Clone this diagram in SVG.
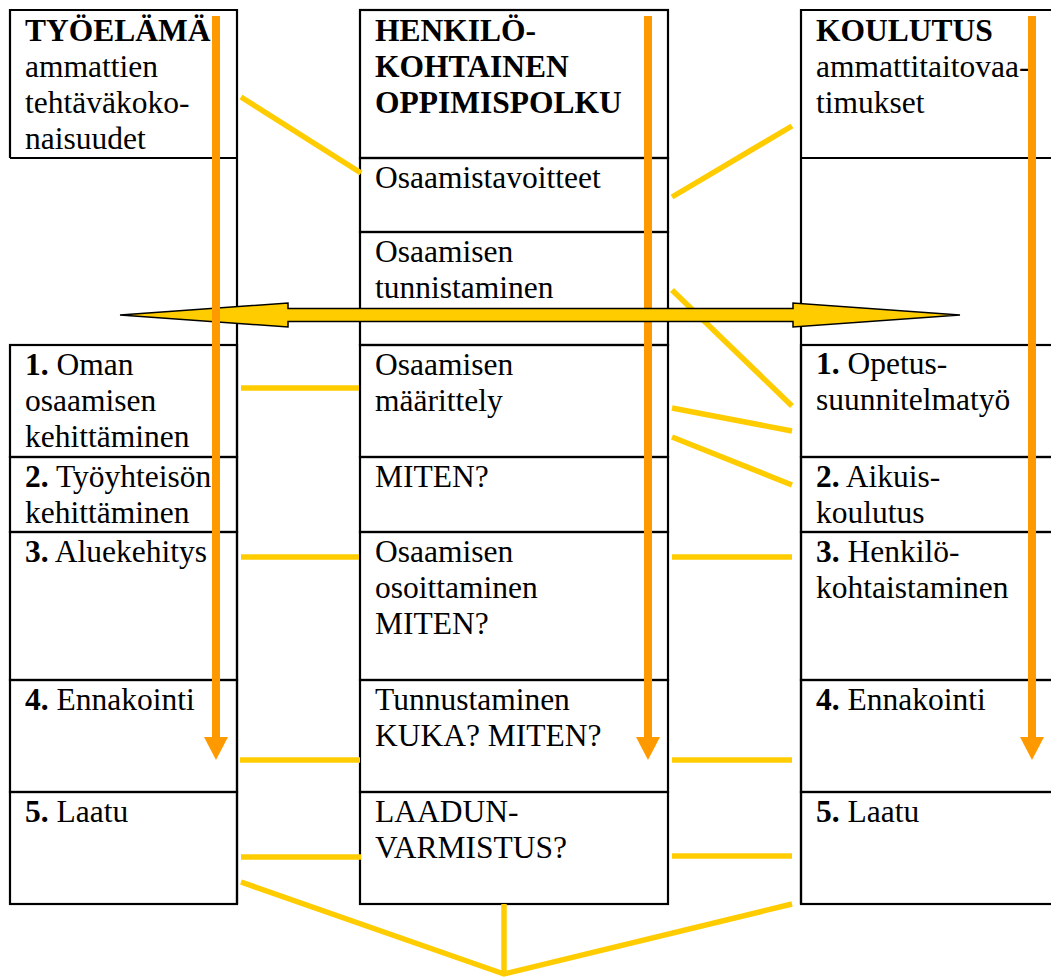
<svg xmlns="http://www.w3.org/2000/svg" width="1051" height="978" viewBox="0 0 1051 978">
  <style>
    .cell { fill: none; stroke: #000; stroke-width: 2.2; }
    .t { font-family: "Liberation Serif", "Times New Roman", serif; font-size: 31.5px; fill: #000; }
    .b { font-weight: bold; }
    .link { stroke: #FFCC00; stroke-width: 5.5; fill: none; }
    .flow { stroke: #FF9900; stroke-width: 8; fill: none; }
    .flowhead { fill: #FF9900; }
    .both { fill: #FFCC00; stroke: #000; stroke-width: 1.5; stroke-linejoin: miter; }
  </style>
  <rect width="1051" height="978" fill="#fff"/>

  <!-- Left column: working life -->
  <g id="tyoelama">
    <path class="cell" d="M10 158 V10 H237 V904 M10 158 H237"/>
    <text class="t" x="25" y="41"><tspan class="b">TYÖELÄMÄ</tspan><tspan x="25" y="77">ammattien</tspan><tspan x="25" y="113">tehtäväkoko-</tspan><tspan x="25" y="149">naisuudet</tspan></text>
  </g>
  <g id="oman-osaamisen">
    <rect class="cell" x="10" y="345" width="227" height="112"/>
    <text class="t" x="25" y="375"><tspan class="b">1.</tspan> Oman<tspan x="25" y="411">osaamisen</tspan><tspan x="25" y="447">kehittäminen</tspan></text>
  </g>
  <g id="tyoyhteison">
    <rect class="cell" x="10" y="457" width="227" height="75"/>
    <text class="t" x="25" y="487"><tspan class="b">2.</tspan> Työyhteisön<tspan x="25" y="523">kehittäminen</tspan></text>
  </g>
  <g id="aluekehitys">
    <rect class="cell" x="10" y="532" width="227" height="148"/>
    <text class="t" x="25" y="562"><tspan class="b">3.</tspan> Aluekehitys</text>
  </g>
  <g id="ennakointi-l">
    <rect class="cell" x="10" y="680" width="227" height="112"/>
    <text class="t" x="25" y="710"><tspan class="b">4.</tspan> Ennakointi</text>
  </g>
  <g id="laatu-l">
    <rect class="cell" x="10" y="792" width="227" height="112"/>
    <text class="t" x="25" y="822"><tspan class="b">5.</tspan> Laatu</text>
  </g>

  <!-- Centre column: personal learning path -->
  <g id="oppimispolku">
    <rect class="cell" x="360" y="10" width="308" height="148"/>
    <text class="t b" x="375" y="41">HENKILÖ-<tspan x="375" y="77">KOHTAINEN</tspan><tspan x="375" y="113">OPPIMISPOLKU</tspan></text>
  </g>
  <g id="osaamistavoitteet">
    <rect class="cell" x="360" y="158" width="308" height="74"/>
    <text class="t" x="375" y="188">Osaamistavoitteet</text>
  </g>
  <g id="tunnistaminen">
    <rect class="cell" x="360" y="232" width="308" height="113"/>
    <text class="t" x="375" y="262">Osaamisen<tspan x="375" y="298">tunnistaminen</tspan></text>
  </g>
  <g id="maarittely">
    <rect class="cell" x="360" y="345" width="308" height="112"/>
    <text class="t" x="375" y="375">Osaamisen<tspan x="375" y="411">määrittely</tspan></text>
  </g>
  <g id="miten">
    <rect class="cell" x="360" y="457" width="308" height="75"/>
    <text class="t" x="375" y="487">MITEN?</text>
  </g>
  <g id="osoittaminen">
    <rect class="cell" x="360" y="532" width="308" height="148"/>
    <text class="t" x="375" y="562">Osaamisen<tspan x="375" y="598">osoittaminen</tspan><tspan x="375" y="634">MITEN?</tspan></text>
  </g>
  <g id="tunnustaminen">
    <rect class="cell" x="360" y="680" width="308" height="112"/>
    <text class="t" x="375" y="710">Tunnustaminen<tspan x="375" y="746">KUKA? MITEN?</tspan></text>
  </g>
  <g id="laadunvarmistus">
    <rect class="cell" x="360" y="792" width="308" height="112"/>
    <text class="t" x="375" y="822">LAADUN-<tspan x="375" y="858">VARMISTUS?</tspan></text>
  </g>

  <!-- Right column: education -->
  <g id="koulutus">
    <path class="cell" d="M1060 10 H801 V904 M801 158 H1060"/>
    <text class="t" x="816" y="41"><tspan class="b">KOULUTUS</tspan><tspan x="816" y="77">ammattitaitovaa-</tspan><tspan x="816" y="113">timukset</tspan></text>
  </g>
  <g id="opetussuunnitelmatyo">
    <rect class="cell" x="801" y="345" width="260" height="112"/>
    <text class="t" x="816" y="374"><tspan class="b">1.</tspan> Opetus-<tspan x="816" y="410">suunnitelmatyö</tspan></text>
  </g>
  <g id="aikuiskoulutus">
    <rect class="cell" x="801" y="457" width="260" height="75"/>
    <text class="t" x="816" y="487"><tspan class="b">2.</tspan> Aikuis-<tspan x="816" y="523">koulutus</tspan></text>
  </g>
  <g id="henkilokohtaistaminen">
    <rect class="cell" x="801" y="532" width="260" height="148"/>
    <text class="t" x="816" y="562"><tspan class="b">3.</tspan> Henkilö-<tspan x="816" y="598">kohtaistaminen</tspan></text>
  </g>
  <g id="ennakointi-r">
    <rect class="cell" x="801" y="680" width="260" height="112"/>
    <text class="t" x="816" y="710"><tspan class="b">4.</tspan> Ennakointi</text>
  </g>
  <g id="laatu-r">
    <rect class="cell" x="801" y="792" width="260" height="112"/>
    <text class="t" x="816" y="822"><tspan class="b">5.</tspan> Laatu</text>
  </g>

  <!-- Connectors -->
  <g id="connectors">
    <!-- yellow links between the columns -->
    <line class="link" x1="241" y1="97" x2="361" y2="173"/>
    <line class="link" x1="672" y1="197" x2="792" y2="126"/>
    <line class="link" x1="672" y1="290" x2="792" y2="406"/>
    <line class="link" x1="672" y1="408" x2="792" y2="431"/>
    <line class="link" x1="672" y1="437" x2="792" y2="485"/>
    <line class="link" x1="241" y1="388" x2="359" y2="388"/>
    <line class="link" x1="241" y1="557" x2="359" y2="557"/>
    <line class="link" x1="672" y1="557" x2="792" y2="557"/>
    <line class="link" x1="240" y1="760" x2="360" y2="760"/>
    <line class="link" x1="672" y1="760" x2="792" y2="760"/>
    <line class="link" x1="241" y1="857" x2="361" y2="857"/>
    <line class="link" x1="672" y1="856" x2="792" y2="856"/>
    <!-- converging quality links -->
    <polyline class="link" points="241,882 504,974 792,904"/>
    <line class="link" x1="504" y1="904" x2="504" y2="974"/>

    <!-- centre flow arrow (below the double arrow) -->
    <line class="flow" x1="648" y1="16" x2="648" y2="738"/>
    <polygon class="flowhead" points="636,737 660,737 648,760"/>

    <!-- two-way arrow -->
    <polygon class="both" points="120,315 288,303 288,308.5 793,308.5 793,303 960,315 793,327 793,321.5 288,321.5 288,327"/>

    <!-- side flow arrows -->
    <line class="flow" x1="216" y1="16" x2="216" y2="738"/>
    <polygon class="flowhead" points="204,737 228,737 216,760"/>
    <line class="flow" x1="1032" y1="16" x2="1032" y2="738"/>
    <polygon class="flowhead" points="1020,737 1044,737 1032,760"/>
  </g>
</svg>
